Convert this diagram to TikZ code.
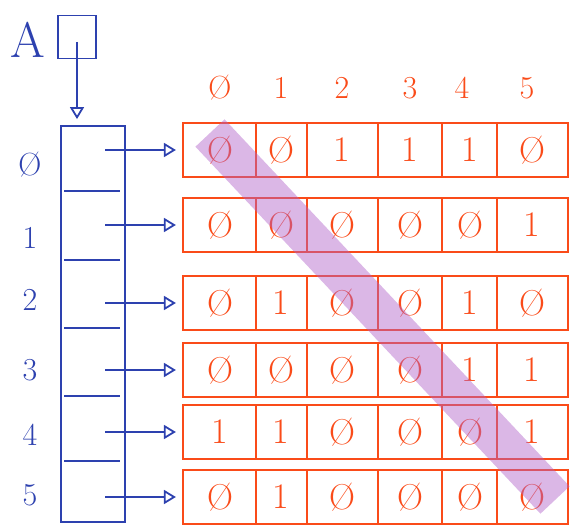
\documentclass[tikz,border=0pt]{standalone}
\usetikzlibrary{arrows.meta}

\definecolor{ink}{RGB}{45,65,175}
\definecolor{marker}{RGB}{250,75,25}
\definecolor{hilite}{RGB}{175,95,200}

% slashed zero as written on the board
\newcommand{\zr}{\O}

\begin{document}
\begin{tikzpicture}[x=1pt,y=-1pt,
  every node/.style={font=\fontsize{32}{32}\selectfont},
  ptr/.style={ink, line width=1.8pt, -{Triangle[open,length=12pt,width=14pt,line width=1.8pt]}},
  rowbox/.style={draw=marker, line width=2.2pt, minimum width=385pt, minimum height=54pt, inner sep=0pt},
  cell/.style={marker, font=\fontsize{36}{36}\selectfont}
]
\useasboundingbox (0,0) rectangle (572,527);

% the array A and its pointer column
\node[ink, font=\fontsize{50}{50}\selectfont] (alabel) at (28,40) {A};
\node[draw=ink, line width=1.8pt, minimum width=38pt, minimum height=43pt, inner sep=0pt] (abox) at (77,37) {};
\node[draw=ink, line width=1.8pt, minimum width=64pt, minimum height=396pt, inner sep=0pt] (col) at (93,324) {};
\coordinate (atail) at (77,42);
\draw[ptr] (atail) -- (col.north -| atail) [shorten >=6pt];
\foreach \y in {191,260,328,396,461}
  \draw[ink, line width=1.8pt] (64,\y) -- (120,\y);

% column headers
\foreach \x/\t [count=\c from 0] in {220/\zr,281/1,342/2,410/3,462/4,527/5}
  \node[marker] (h\c) at (\x,88) {\t};

% rows with their values
\foreach \r/\yc/\ly/\vals in {0/150/165/{0,0,1,1,1,0},
                              1/225/238/{0,0,0,0,0,1},
                              2/303/300/{0,1,0,0,1,0},
                              3/370/370/{0,0,0,0,1,1},
                              4/432/435/{1,1,0,0,0,1},
                              5/497/495/{0,1,0,0,0,0}} {
  \node[ink] (lab\r) at (30,\ly) {\ifnum\r=0 \zr\else\r\fi};
  \node[rowbox] (row\r) at (375.5,\yc) {};
  \foreach \x in {256,307,378,442,497}
    \draw[marker, line width=2.2pt] (\x,\yc-27) -- (\x,\yc+27);
  \foreach \v [count=\c from 0] in \vals {
    \pgfmathsetmacro{\cx}{{220,281,342,410,470,532}[\c]}
    \node[cell] (v\r\c) at (\cx,\yc) {\ifnum\v=0 \zr\else 1\fi};
  }
  \coordinate (p\r) at (105,\yc);
  \draw[ptr] (p\r) -- (row\r.west) [shorten >=6pt];
}

% diagonal highlight
\draw[hilite, opacity=0.45, line width=40pt] (210,133) -- (555,500);
\end{tikzpicture}
\end{document}
